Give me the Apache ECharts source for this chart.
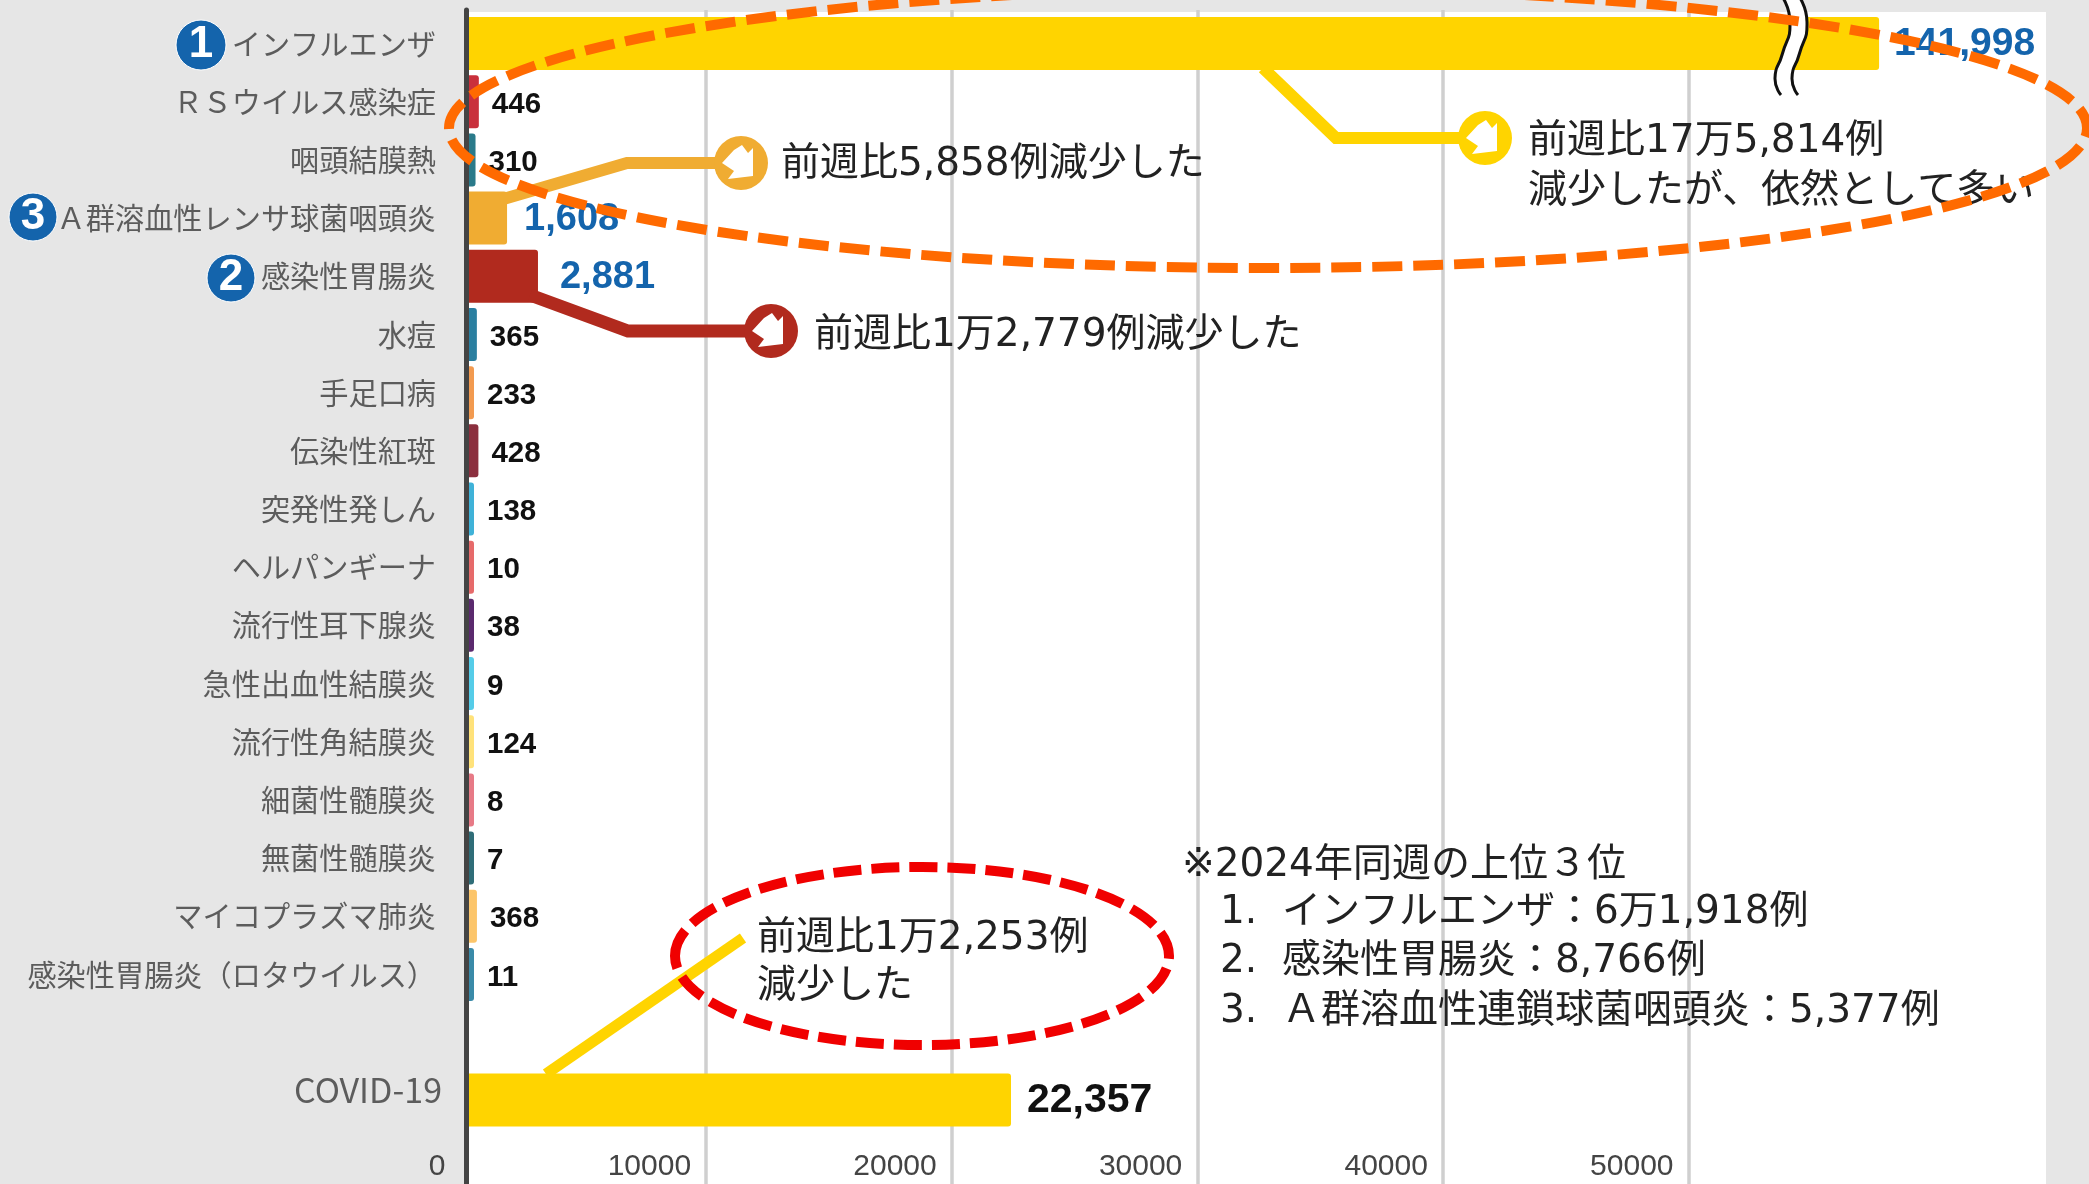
<!DOCTYPE html>
<html lang="ja">
<head>
<meta charset="utf-8">
<style>
  html, body { margin: 0; padding: 0; background: #e6e6e6; }
  #chart { width: 2089px; height: 1184px; }
</style>
</head>
<body>
<div id="chart"></div>
<script src="https://cdn.jsdelivr.net/npm/echarts@6/dist/echarts.min.js"></script>
<script>
const categories = ['インフルエンザ', 'ＲＳウイルス感染症', '咽頭結膜熱', 'Ａ群溶血性レンサ球菌咽頭炎', '感染性胃腸炎', '水痘', '手足口病', '伝染性紅斑', '突発性発しん', 'ヘルパンギーナ', '流行性耳下腺炎', '急性出血性結膜炎', '流行性角結膜炎', '細菌性髄膜炎', '無菌性髄膜炎', 'マイコプラズマ肺炎', '感染性胃腸炎（ロタウイルス）']
const caseCounts = [141998, 446, 310, 1608, 2881, 365, 233, 428, 138, 10, 38, 9, 124, 8, 7, 368, 11]
const barColors = ['#ffd400', '#c9303c', '#2a7a8a', '#f0ac32', '#b12a1e', '#2a7fa0', '#f29a50', '#8b2f3e', '#3fb2d8', '#e66a6a', '#5b2a6e', '#55cce8', '#ffe27a', '#e77a86', '#2f6d78', '#fcc56a', '#3a8aa8']
const covidCategories = ['COVID-19']
const covidCounts = [22357]
const covidColors = ['#ffd400']

const FONT_JP = '"Noto Sans CJK JP", sans-serif'
const FONT_NOTE = '"DejaVu Sans", "Noto Sans CJK JP", sans-serif'
const FONT_NUM = '"Liberation Sans", sans-serif'
const BLUE = '#1464ac'
const TEXT = '#222'

// the long influenza bar is cut by the wavy mark, so the bar axes skip this range
const BAR_BREAK = { start: 54400, end: 138300, gap: 0 }
const BAR_AXIS_MAX = 148870

function valueLabel(size, color, distance, dy) {
  return { fontSize: size, color, distance, offset: [0, dy] }
}

const labelOverrides = {
  0: valueLabel(39, BLUE, 15, 1),
  3: valueLabel(38, BLUE, 17, 1),
  4: valueLabel(38, BLUE, 22, 1),
}

const chart = echarts.init(document.getElementById('chart'))

function barAxis(gridIndex) {
  return {
    type: 'value', gridIndex, min: 0, max: BAR_AXIS_MAX, show: false,
    breaks: [BAR_BREAK], breakArea: { show: false },
    splitLine: { show: false },
  }
}

function barSeries(axisIndex, values, colors, overrides) {
  return {
    type: 'bar', xAxisIndex: axisIndex, yAxisIndex: axisIndex,
    barWidth: 53, barMinHeight: 6, z: 3,
    data: values.map((v, i) => ({
      value: v,
      itemStyle: { color: colors[i], borderRadius: [0, 3, 3, 0] },
      label: overrides[i] || {},
    })),
    label: {
      show: true, position: 'right', distance: 13, offset: [0, 3],
      fontFamily: FONT_NUM, fontWeight: 'bold', fontSize: 29.5, color: '#111',
      formatter: p => p.value.toLocaleString('en-US'),
    },
  }
}

// white ring with the small house shape, same for every callout
function callout(cx, cy, color) {
  return [
    { type: 'circle', z: 20, shape: { cx, cy, r: 27 }, style: { fill: color } },
    { type: 'polygon', z: 21, shape: { points: [[-19, 0], [-7, -13], [1, -18], [7, -10], [12, -15], [12, 13], [-13, 16], [-7, 8]].map(p => [cx + p[0], cy + p[1]]) }, style: { fill: '#fff' } },
  ]
}

function leader(points, color, width) {
  return { type: 'polyline', z: 19, shape: { points }, style: { stroke: color, lineWidth: width, fill: null, lineJoin: 'miter' } }
}

function note(x, y, text) {
  return { type: 'text', z: 30, x, y: y + 4, style: { text, fill: TEXT, font: `39px ${FONT_NOTE}`, verticalAlign: 'middle' } }
}

function badge(cx, cy, r, text) {
  return [
    { type: 'circle', z: 30, shape: { cx, cy, r }, style: { fill: BLUE, stroke: '#fff', lineWidth: 1 } },
    { type: 'text', z: 31, x: cx, y: cy, style: { text, fill: '#fff', font: `bold 44px ${FONT_NUM}`, align: 'center', verticalAlign: 'middle' } },
  ]
}

function dashedEllipse(cx, cy, rx, ry, color, dash) {
  return { type: 'ellipse', z: 40, shape: { cx, cy, rx, ry }, style: { fill: null, stroke: color, lineWidth: 10, lineDash: dash } }
}

function wave(dx, color, width, z) {
  return {
    type: 'polyline', z,
    shape: { smooth: 0.6, points: [[1781, -5], [1790, 22], [1782, 55], [1775, 78], [1781, 95]].map(p => [p[0] + dx, p[1]]) },
    style: { fill: null, stroke: color, lineWidth: width },
  }
}

chart.setOption({
  animation: false,
  backgroundColor: '#e6e6e6',
  grid: [
    { left: 468, top: 14.5, width: 1578, height: 989 },
    { left: 468, top: 1071, width: 1578, height: 58 },
    { left: 460.5, top: 10, width: 1228, height: 1174 },
  ],
  xAxis: [
    barAxis(0),
    barAxis(1),
    {
      type: 'value', gridIndex: 2, min: 0, max: 50000, interval: 10000,
      axisLine: { show: false }, axisTick: { show: false },
      splitLine: { show: true, showMinLine: false, lineStyle: { color: '#cfcfcf', width: 3.5 } },
      axisLabel: {
        inside: true, margin: 2, align: 'right', padding: [0, 15, 0, 0],
        fontFamily: FONT_NUM, fontSize: 30, color: '#444',
        formatter: v => String(v),
      },
    },
  ],
  yAxis: [
    {
      type: 'category', gridIndex: 0, data: categories, inverse: true,
      axisLine: { show: false }, axisTick: { show: false },
      axisLabel: { margin: 32, fontFamily: FONT_JP, fontSize: 29.2, color: '#5c5c5c', interval: 0 },
    },
    {
      type: 'category', gridIndex: 1, data: covidCategories,
      axisLine: { show: false }, axisTick: { show: false },
      axisLabel: { margin: 26, verticalAlign: 'bottom', lineHeight: 20, fontFamily: FONT_JP, fontSize: 34, color: '#5c5c5c' },
    },
    {
      type: 'value', gridIndex: 2, min: 0, max: 1, offset: -5.5, z: 6,
      axisLine: { show: true, lineStyle: { color: '#444', width: 5 } },
      axisTick: { show: false }, axisLabel: { show: false }, splitLine: { show: false },
    },
  ],
  series: [
    barSeries(0, caseCounts, barColors, labelOverrides),
    barSeries(1, covidCounts, covidColors, { 0: valueLabel(41, '#111', 16, 1) }),
  ],
  graphic: [
    { type: 'rect', z: -1, shape: { x: 466, y: 12, width: 1580, height: 1172 }, style: { fill: '#fff' } },

    wave(8.5, '#fff', 15, 25),
    wave(0, '#111', 3, 26),
    wave(17, '#111', 3, 26),

    leader([[1263, 68], [1336, 138], [1470, 138]], '#ffd400', 12),
    ...callout(1485, 138, '#ffd400'),
    leader([[500, 200], [627, 163], [725, 163]], '#f0ac32', 12),
    ...callout(741, 163, '#f0ac32'),
    leader([[530, 295], [628, 331], [755, 331]], '#b12a1e', 13),
    ...callout(771, 331, '#b12a1e'),
    leader([[546, 1074], [743, 938]], '#ffd400', 11),

    note(1528, 138, '前週比17万5,814例'),
    note(1528, 188, '減少したが、依然として多い'),
    note(781, 161, '前週比5,858例減少した'),
    note(814, 332, '前週比1万2,779例減少した'),
    note(757, 935, '前週比1万2,253例'),
    note(757, 983, '減少した'),
    note(1182, 862, '※2024年同週の上位３位'),
    note(1220, 909, '1.  インフルエンザ：6万1,918例'),
    note(1220, 958, '2.  感染性胃腸炎：8,766例'),
    note(1220, 1008, '3.  Ａ群溶血性連鎖球菌咽頭炎：5,377例'),

    ...badge(201, 45, 25, '1'),
    ...badge(231, 278, 24, '2'),
    ...badge(33, 217, 24, '3'),

    dashedEllipse(1268, 128, 819, 140, '#ff6a00', [30, 11]),
    dashedEllipse(922, 956, 247, 89, '#f00000', [28, 10]),
  ],
})
</script>
</body>
</html>
